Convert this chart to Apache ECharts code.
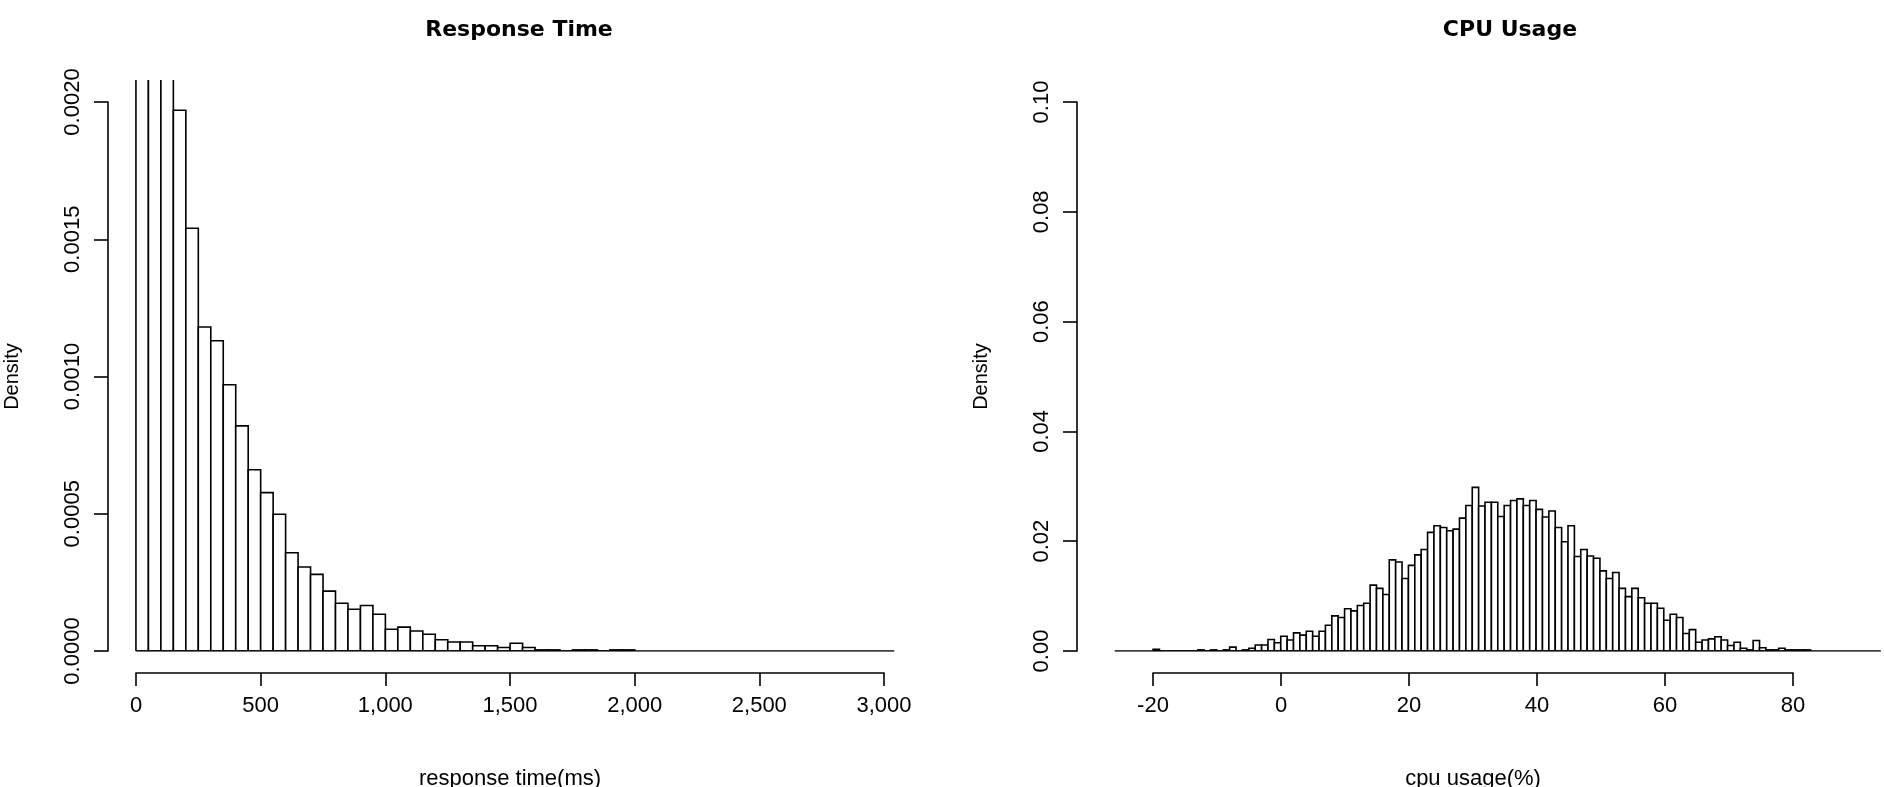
<!DOCTYPE html>
<html>
<head>
<meta charset="utf-8">
<script src="https://cdn.jsdelivr.net/npm/echarts@6/dist/echarts.min.js"></script>
<style>
  html, body { margin: 0; padding: 0; background: #fff; }
  #chart { width: 1884px; height: 787px; }
</style>
</head>
<body>
<div id="chart"></div>
<script>
// response time histogram: bins of 50 ms starting at 0
const rtBinWidth = 50;
const rtDensity = [
  0.0032, 0.0030, 0.0025, 0.00197, 0.00154, 0.00118, 0.00113, 0.00097, 0.00082, 0.00066,
  0.000577, 0.000498, 0.000358, 0.000306, 0.000279, 0.000218, 0.000174, 0.000152, 0.000166, 0.000134,
  0.000079, 0.000087, 0.000073, 0.000061, 0.000041, 0.000033, 0.000033, 0.000019, 0.000019, 0.000013,
  0.000028, 0.000013, 0.000004, 0.000004, 0, 0.000004, 0.000004, 0, 0.000004, 0.000004
];
const rtBaseline = [0, 3040];
const rtTicks = { min: 0, max: 3000, interval: 500 };
const rtYTicks = { min: 0, max: 0.002, interval: 0.0005 };

// cpu usage histogram: bins of 1% starting at -20
const cpuStart = -20;
const cpuDensity = [
  0.0003, 0, 0, 0, 0, 0, 0, 0.0002, 0, 0.0002,
  0, 0.0002, 0.0007, 0, 0.0002, 0.0005, 0.0011, 0.0011, 0.0021, 0.0015,
  0.0027, 0.002, 0.0033, 0.0029, 0.0036, 0.0027, 0.0036, 0.0047, 0.0064, 0.0061,
  0.0077, 0.0073, 0.0083, 0.0087, 0.012, 0.0114, 0.0103, 0.0166, 0.0162, 0.0132,
  0.0156, 0.0175, 0.0185, 0.0216, 0.0228, 0.0225, 0.0219, 0.0222, 0.0242, 0.0265,
  0.0298, 0.0264, 0.0271, 0.0271, 0.0245, 0.0265, 0.0274, 0.0277, 0.0265, 0.0274,
  0.0258, 0.0244, 0.0255, 0.0225, 0.0199, 0.0228, 0.0172, 0.0185, 0.0173, 0.0169,
  0.0146, 0.0132, 0.0143, 0.0114, 0.0099, 0.0114, 0.0097, 0.0087, 0.0087, 0.0078,
  0.0056, 0.0067, 0.0061, 0.0032, 0.0039, 0.0016, 0.002, 0.0022, 0.0026, 0.002,
  0.001, 0.0016, 0.0005, 0.0002, 0.0019, 0.0006, 0.0002, 0.0002, 0.0005, 0.0002,
  0.0002, 0.0002, 0.0002
];
const cpuBaseline = [-26, 94];
const cpuTicks = { min: -20, max: 80, interval: 20 };
const cpuYTicks = { min: 0, max: 0.1, interval: 0.02 };

const font = 'Liberation Sans, Arial, sans-serif';
const ink = '#000';

const rtBins = rtDensity.map((d, i) => [i * rtBinWidth, (i + 1) * rtBinWidth, d]);
const cpuBins = cpuDensity.map((d, i) => [cpuStart + i, cpuStart + i + 1, d]);

function rectItem(params, api) {
  const p0 = api.coord([api.value(0), api.value(2)]);
  const p1 = api.coord([api.value(1), 0]);
  return {
    type: 'rect',
    shape: { x: p0[0], y: p0[1], width: p1[0] - p0[0], height: p1[1] - p0[1] },
    style: { fill: '#fff', stroke: ink, lineWidth: 1.6 }
  };
}

const hidden = { show: false };
function plotAxisX(min, max) {
  return { type: 'value', min, max, axisLine: hidden, axisTick: hidden, axisLabel: hidden, splitLine: hidden };
}
function plotAxisY(max) {
  return { type: 'value', min: 0, max, axisLine: hidden, axisTick: hidden, axisLabel: hidden, splitLine: hidden };
}
function tickX(t, name, dec) {
  return {
    type: 'value', min: t.min, max: t.max, interval: t.interval, position: 'bottom',
    axisLine: { lineStyle: { color: ink, width: 1.6 } },
    axisTick: { length: 13, lineStyle: { color: ink, width: 1.6 } },
    axisLabel: { color: ink, fontSize: 22, fontFamily: font, margin: 22, showMinLabel: true, showMaxLabel: true },
    splitLine: hidden,
    name, nameLocation: 'middle', nameGap: 95,
    nameTextStyle: { color: ink, fontSize: 22, fontFamily: font }
  };
}
function tickY(t, dec) {
  return {
    type: 'value', min: t.min, max: t.max, interval: t.interval, position: 'left',
    axisLine: { lineStyle: { color: ink, width: 1.6 } },
    axisTick: { length: 14, lineStyle: { color: ink, width: 1.6 } },
    axisLabel: { color: ink, fontSize: 22, fontFamily: font, rotate: 90, margin: 24,
      formatter: v => v.toFixed(dec), showMinLabel: true, showMaxLabel: true },
    splitLine: hidden,
    name: 'Density', nameLocation: 'middle', nameGap: 86,
    nameTextStyle: { color: ink, fontSize: 20, fontFamily: font }
  };
}
const dummyY = { type: 'value', show: false };
const dummyX = { type: 'value', show: false };

const option = {
  backgroundColor: '#fff',
  animation: false,
  title: [
    { text: 'Response Time', left: 514, top: 14, textAlign: 'center',
      textStyle: { fontSize: 22, fontWeight: 'bold', fontFamily: 'DejaVu Sans, sans-serif', color: ink } },
    { text: 'CPU Usage', left: 1505, top: 14, textAlign: 'center',
      textStyle: { fontSize: 22, fontWeight: 'bold', fontFamily: 'DejaVu Sans, sans-serif', color: ink } }
  ],
  grid: [
    { left: 111, top: 80, width: 784, height: 571 },   // 0 left plot
    { left: 136, top: 673, width: 748, height: 0 },    // 1 left x ticks
    { left: 108, top: 102, width: 0, height: 549 },    // 2 left y ticks
    { left: 1102, top: 80, width: 784, height: 571 },  // 3 right plot
    { left: 1153, top: 673, width: 640, height: 0 },   // 4 right x ticks
    { left: 1077, top: 102, width: 0, height: 549 }    // 5 right y ticks
  ],
  xAxis: [
    Object.assign(plotAxisX(-100, 3043), { gridIndex: 0 }),
    Object.assign(tickX(rtTicks, 'response time(ms)'), { gridIndex: 1 }),
    Object.assign({}, dummyX, { gridIndex: 2 }),
    Object.assign(plotAxisX(-28, 94.5), { gridIndex: 3 }),
    Object.assign(tickX(cpuTicks, 'cpu usage(%)'), { gridIndex: 4 }),
    Object.assign({}, dummyX, { gridIndex: 5 })
  ],
  yAxis: [
    Object.assign(plotAxisY(0.00208), { gridIndex: 0 }),
    Object.assign({}, dummyY, { gridIndex: 1 }),
    Object.assign(tickY(rtYTicks, 4), { gridIndex: 2 }),
    Object.assign(plotAxisY(0.104), { gridIndex: 3 }),
    Object.assign({}, dummyY, { gridIndex: 4 }),
    Object.assign(tickY(cpuYTicks, 2), { gridIndex: 5 })
  ],
  series: [
    { type: 'line', xAxisIndex: 0, yAxisIndex: 0, symbol: 'none',
      lineStyle: { color: ink, width: 1.6 }, data: rtBaseline.map(x => [x, 0]) },
    { type: 'custom', xAxisIndex: 0, yAxisIndex: 0, clip: true, renderItem: rectItem, data: rtBins },
    { type: 'line', xAxisIndex: 3, yAxisIndex: 3, symbol: 'none',
      lineStyle: { color: ink, width: 1.6 }, data: cpuBaseline.map(x => [x, 0]) },
    { type: 'custom', xAxisIndex: 3, yAxisIndex: 3, clip: true, renderItem: rectItem, data: cpuBins }
  ]
};

const chart = echarts.init(document.getElementById('chart'));
chart.setOption(option);
</script>
</body>
</html>
